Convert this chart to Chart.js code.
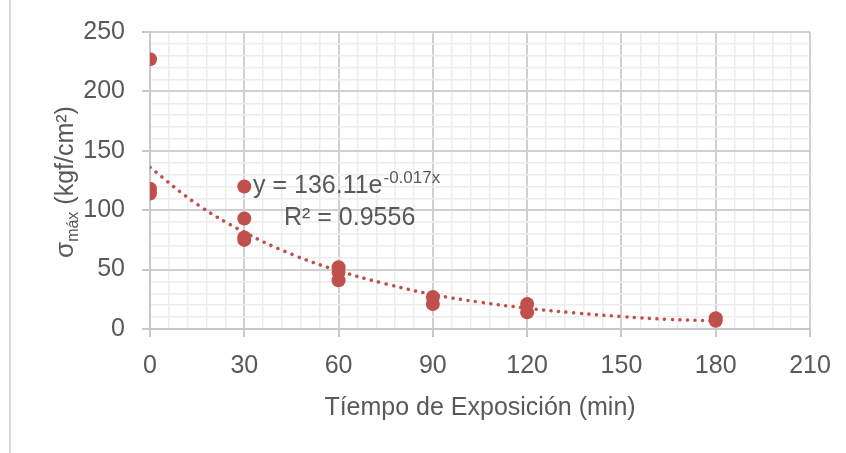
<!DOCTYPE html>
<html>
<head>
<meta charset="utf-8">
<script src="https://cdn.jsdelivr.net/npm/chart.js@4.4.1/dist/chart.umd.min.js"></script>
<style>
    html, body { margin: 0; padding: 0; background: #fff; }
    #wrap { position: relative; width: 846px; height: 453px; }
    #edge { position: absolute; left: 9px; top: 0; width: 2px; height: 453px; background: #d9d9d9; }
    canvas { position: absolute; left: 0; top: 0; }
</style>
</head>
<body>
<div id="wrap">
    <div id="edge"></div>
    <canvas id="stressChart" width="846" height="453"></canvas>
</div>
<script>
// Measured points: exposure time (min) vs max stress (kgf/cm2)
const timeMin   = [0, 0, 0, 30, 30, 30, 30, 60, 60, 60, 90, 90, 120, 120, 180, 180];
const stressMax = [227, 118, 114, 120, 93, 77, 75, 52, 48, 41, 27, 21, 21, 14, 9, 7];

// Exponential trendline
const trendX = [0, 15, 30, 45, 60, 75, 90, 105, 120, 135, 150, 165, 180];
const trendY = [136, 105, 81.5, 63, 49, 38, 29, 22.6, 17.5, 13.6, 10.5, 8.1, 6.8];

const xTicks = [0, 30, 60, 90, 120, 150, 180, 210];
const yTicks = [0, 50, 100, 150, 200, 250];

const FONT = '"Liberation Sans", Arial, sans-serif';
const TEXT = '#595959';
const RED = '#C0504D';

const isMajorX = v => xTicks.includes(Math.round(v));
const isMajorY = v => yTicks.includes(Math.round(v));

// Axis titles (y one has a subscript) and trendline equation
const annotations = {
    id: 'annotations',
    afterDraw(chart) {
        const ctx = chart.ctx;
        ctx.save();
        ctx.fillStyle = TEXT;
        ctx.textBaseline = 'alphabetic';

        // equation
        ctx.font = '25px ' + FONT;
        ctx.textAlign = 'left';
        const eq = 'y = 136.11e';
        ctx.fillText(eq, 253, 193);
        const w = ctx.measureText(eq).width;
        ctx.font = '17px ' + FONT;
        ctx.fillText('-0.017x', 253 + w + 1, 183);
        ctx.font = '25px ' + FONT;
        ctx.fillText('R² = 0.9556', 284, 225);

        // x axis title
        ctx.textAlign = 'center';
        ctx.fillText('Tíempo de Exposición (min)', 480, 415);

        // y axis title
        ctx.translate(73, 182);
        ctx.rotate(-Math.PI / 2);
        ctx.textAlign = 'left';
        const parts = [
            { t: 'σ', size: 26, dy: 0 },
            { t: 'máx', size: 16, dy: 5 },
            { t: ' (kgf/cm²)', size: 25, dy: 0 }
        ];
        let total = 0;
        parts.forEach(p => {
            ctx.font = p.size + 'px ' + FONT;
            p.w = ctx.measureText(p.t).width;
            total += p.w;
        });
        let x = -total / 2;
        parts.forEach(p => {
            ctx.font = p.size + 'px ' + FONT;
            ctx.fillText(p.t, x, p.dy);
            x += p.w;
        });
        ctx.restore();
    }
};

const ctx = document.getElementById('stressChart');
new Chart(ctx, {
    type: 'scatter',
    data: {
        datasets: [
            {
                label: 'Exponencial',
                data: trendX.map((x, i) => ({ x: x, y: trendY[i] })),
                showLine: true,
                borderColor: RED,
                borderWidth: 3.5,
                borderDash: [0.1, 7.5],
                borderCapStyle: 'round',
                tension: 0.4,
                pointRadius: 0,
                fill: false,
                order: 2
            },
            {
                label: 'σmáx',
                data: timeMin.map((x, i) => ({ x: x, y: stressMax[i] })),
                backgroundColor: RED,
                borderColor: RED,
                pointRadius: 7,
                pointBorderWidth: 0,
                order: 1
            }
        ]
    },
    options: {
        responsive: false,
        animation: false,
        layout: { padding: { top: 32, right: 36, left: 0, bottom: 0 } },
        plugins: {
            legend: { display: false },
            tooltip: { enabled: false }
        },
        scales: {
            x: {
                type: 'linear',
                min: 0,
                max: 210,
                afterFit: s => { s.height = 453 - 329; },
                ticks: {
                    stepSize: 6,
                    maxTicksLimit: 100,
                    autoSkip: false,
                    maxRotation: 0,
                    padding: 14,
                    color: TEXT,
                    font: { family: FONT, size: 25 },
                    callback: v => isMajorX(v) ? Math.round(v) : ''
                },
                grid: {
                    color: c => isMajorX(c.tick.value) ? '#d0d0d0' : '#ececec',
                    lineWidth: c => isMajorX(c.tick.value) ? 2 : 1.5,
                    tickColor: c => isMajorX(c.tick.value) ? '#c8c8c8' : 'rgba(0,0,0,0)',
                    tickLength: 8
                },
                border: { color: '#c8c8c8', width: 2 }
            },
            y: {
                min: 0,
                max: 250,
                afterFit: s => { s.width = 150; },
                ticks: {
                    stepSize: 10,
                    maxTicksLimit: 100,
                    autoSkip: false,
                    padding: 17,
                    color: TEXT,
                    font: { family: FONT, size: 25 },
                    callback: v => isMajorY(v) ? Math.round(v) : ''
                },
                grid: {
                    color: c => isMajorY(c.tick.value) ? '#d0d0d0' : '#ececec',
                    lineWidth: c => isMajorY(c.tick.value) ? 2 : 1.5,
                    tickColor: c => isMajorY(c.tick.value) ? '#c8c8c8' : 'rgba(0,0,0,0)',
                    tickLength: 8
                },
                border: { color: '#c8c8c8', width: 2 }
            }
        }
    },
    plugins: [annotations]
});
</script>
</body>
</html>
